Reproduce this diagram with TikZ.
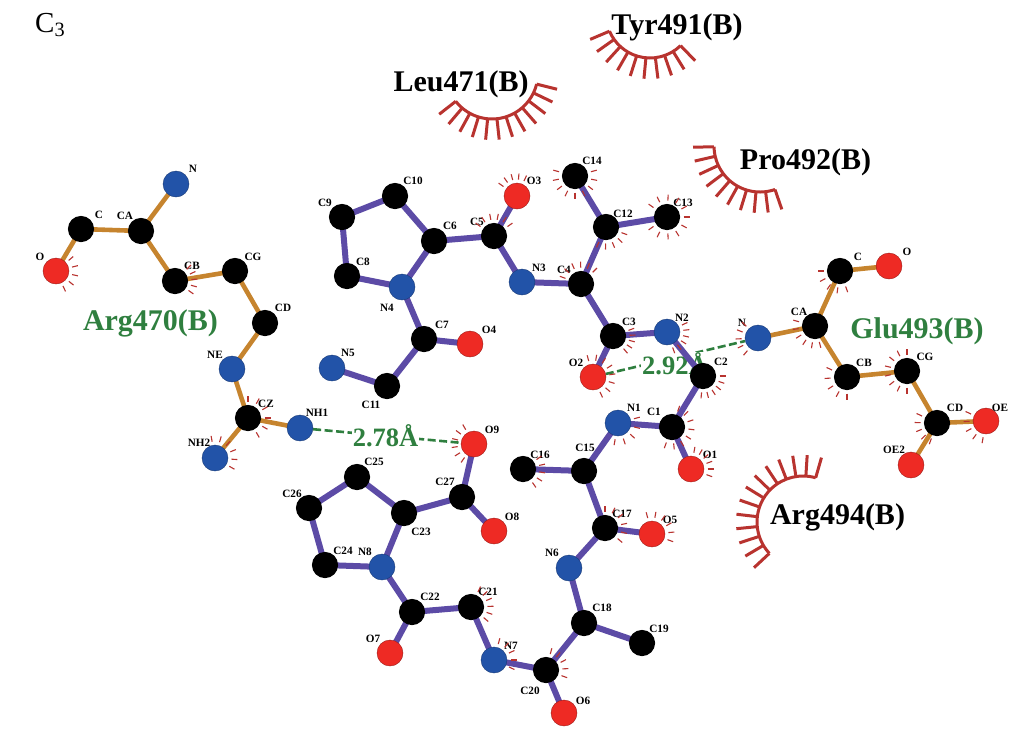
\documentclass[tikz,border=0pt]{standalone}
\usepackage{fontspec}
\setmainfont{Liberation Serif}
\usetikzlibrary{calc}
\pgfdeclarelayer{bg}
\pgfsetlayers{bg,main}
\definecolor{atomred}{HTML}{EE2A24}
\definecolor{atomblue}{HTML}{2253A8}
\definecolor{ligbond}{HTML}{5C4BA6}
\definecolor{resbond}{HTML}{C6842E}
\definecolor{hbgreen}{HTML}{2F7F3F}
\definecolor{lashred}{HTML}{B8332F}
\tikzset{
  atomC/.style={circle,fill=black,minimum size=26.2pt,inner sep=0pt},
  atomN/.style={circle,fill=atomblue,draw=atomblue!70!black,line width=.4pt,minimum size=26pt,inner sep=0pt},
  atomO/.style={circle,fill=atomred,draw=atomred!65!black,line width=.4pt,minimum size=26pt,inner sep=0pt},
  lab/.style={inner sep=0pt,font=\fontsize{11.2}{11}\selectfont\bfseries},
  resblack/.style={inner sep=0pt,font=\fontsize{30}{30}\selectfont\bfseries,text=black},
  resgreen/.style={inner sep=0pt,font=\fontsize{30}{30}\selectfont\bfseries,text=hbgreen},
  distlab/.style={inner sep=1pt,fill=white,font=\fontsize{26.5}{26}\selectfont\bfseries,text=hbgreen},
  ligb/.style={draw=ligbond,line width=6pt},
  resb/.style={draw=resbond,line width=4.6pt},
  hbond/.style={draw=hbgreen,line width=2.6pt,dash pattern=on 8pt off 3.5pt},
  hashmark/.style={draw=lashred,line width=1.1pt},
  lashline/.style={draw=lashred,line width=3pt}
}
\newcommand{\atm}[7]{% name, type, x, y, label, lx, ly
  \node[atom#2] (#1) at (#3,#4) {};
  \node[lab] (#1lab) at (#6,#7) {#5};
}
\newcommand{\hashm}[4]{% atom, from, to, n
  \foreach \hi in {1,...,#4} {
    \pgfmathsetmacro\ha{#2+(\hi-1)*(#3-(#2))/(#4-1)}
    \draw[hashmark] ($(#1.center)+(\ha:16.5pt)$) -- ($(#1.center)+(\ha:22.5pt)$);
  }
}
\newcommand{\lash}[6]{% cx, cy, r, a1, a2, n
  \draw[lashline] ($(#1,#2)+(#4:#3pt)$) arc[start angle=#4,end angle=#5,radius=#3pt];
  \foreach \hi in {1,...,#6} {
    \pgfmathsetmacro\ha{#4+(\hi-1)*(#5-(#4))/(#6-1)}
    \draw[lashline] ($(#1,#2)+(\ha:#3pt)$) -- ($(#1,#2)+(\ha:#3pt+21pt)$);
  }
}
\begin{document}
\begin{tikzpicture}[x=1pt,y=1pt,yscale=-1]
\useasboundingbox (0,0) rectangle (1029,740);
% Arg470
\atm{aN}{N}{176}{184}{N}{193}{169}
\atm{aCA}{C}{141}{231}{CA}{125}{216}
\atm{aC}{C}{81}{229}{C}{99}{215}
\atm{aO}{O}{56}{271}{O}{40}{257}
\atm{aCB}{C}{175}{281}{CB}{192}{266}
\atm{aCG}{C}{235}{271}{CG}{253}{257}
\atm{aCD}{C}{265}{323}{CD}{283}{308}
\atm{aNE}{N}{232}{369}{NE}{215}{355}
\atm{aCZ}{C}{248}{418}{CZ}{266}{404}
\atm{aNHa}{N}{300}{428}{NH1}{317}{413}
\atm{aNHb}{N}{215}{458}{NH2}{199}{443}
% ligand
\atm{Ca}{C}{672}{427}{C1}{654}{412}
\atm{Cb}{C}{703}{376}{C2}{721}{362}
\atm{Cc}{C}{613}{336}{C3}{629}{322}
\atm{Cd}{C}{581}{284}{C4}{564}{270}
\atm{Ce}{C}{494}{236}{C5}{477}{222}
\atm{Cf}{C}{434}{241}{C6}{450}{226}
\atm{Cg}{C}{424}{339}{C7}{442}{325}
\atm{Ch}{C}{347}{276}{C8}{363}{262}
\atm{Ci}{C}{342}{217}{C9}{325}{203}
\atm{Cj}{C}{395}{196}{C10}{413}{181}
\atm{Ck}{C}{387}{386}{C11}{371}{405}
\atm{Cl}{C}{606}{227}{C12}{623}{214}
\atm{Cm}{C}{667}{217}{C13}{683}{203}
\atm{Cn}{C}{575}{176}{C14}{592}{161}
\atm{Co}{C}{584}{471}{C15}{585}{448}
\atm{Cp}{C}{523}{469}{C16}{540}{455}
\atm{Cq}{C}{605}{528}{C17}{622}{514}
\atm{Cr}{C}{584}{623}{C18}{602}{608}
\atm{Cs}{C}{642}{643}{C19}{659}{629}
\atm{Ct}{C}{546}{670}{C20}{530}{691}
\atm{Cu}{C}{471}{607}{C21}{488}{592}
\atm{Cv}{C}{412}{612}{C22}{430}{597}
\atm{Cw}{C}{404}{513}{C23}{421}{532}
\atm{Cx}{C}{325}{565}{C24}{343}{551}
\atm{Cy}{C}{357}{477}{C25}{374}{462}
\atm{Cz}{C}{309}{508}{C26}{292}{494}
\atm{Caa}{C}{462}{497}{C27}{445}{482}
\atm{Na}{N}{618}{423}{N1}{634}{408}
\atm{Nb}{N}{667}{332}{N2}{682}{318}
\atm{Nc}{N}{522}{282}{N3}{539}{268}
\atm{Nd}{N}{402}{287}{N4}{387}{308}
\atm{Ne}{N}{332}{368}{N5}{348}{353}
\atm{Nf}{N}{569}{568}{N6}{552}{553}
\atm{Ng}{N}{494}{660}{N7}{511}{646}
\atm{Nh}{N}{382}{567}{N8}{365}{552}
\atm{Oa}{O}{691}{469}{O1}{710}{455}
\atm{Ob}{O}{593}{377}{O2}{576}{363}
\atm{Oc}{O}{517}{196}{O3}{534}{181}
\atm{Od}{O}{470}{344}{O4}{489}{330}
\atm{Oe}{O}{652}{534}{O5}{670}{520}
\atm{Of}{O}{564}{713}{O6}{583}{701}
\atm{Og}{O}{390}{653}{O7}{373}{639}
\atm{Oh}{O}{494}{531}{O8}{512}{517}
\atm{Oi}{O}{474}{444}{O9}{492}{430}
% Glu493
\atm{gN}{N}{758}{338}{N}{742}{323}
\atm{gCA}{C}{815}{326}{CA}{799}{312}
\atm{gC}{C}{840}{271}{C}{858}{257}
\atm{gO}{O}{889}{266}{O}{907}{252}
\atm{gCB}{C}{847}{377}{CB}{864}{363}
\atm{gCG}{C}{907}{371}{CG}{925}{357}
\atm{gCD}{C}{937}{423}{CD}{955}{408}
\atm{gOEa}{O}{986}{421}{OE}{1000}{408}
\atm{gOEb}{O}{911}{465}{OE2}{894}{450}
% residue names
\node[resgreen] (rArgA) at (150.5,323) {Arg470(B)};
\node[resgreen] (rGlu) at (917,331) {Glu493(B)};
\node[resblack] (rLeu) at (461,84) {Leu471(B)};
\node[resblack] (rTyr) at (677,27) {Tyr491(B)};
\node[resblack] (rPro) at (805.5,162) {Pro492(B)};
\node[resblack] (rArgB) at (837.5,517) {Arg494(B)};
\node[inner sep=0pt,anchor=west,font=\fontsize{29}{29}\selectfont] (panel) at (35,25) {C\textsubscript{3}};
\begin{pgfonlayer}{bg}
  \draw[hbond] (aNHa) -- node[distlab,pos=.49] (dA) {2.78Å} (Oi);
  \draw[hbond] (Ob) -- (gN);
  \node[distlab] (dB) at (675,364) {2.92Å};
  \path[resb] (aN.center) -- (aCA.center) -- (aC.center) -- (aO.center);
  \path[resb] (aCA.center) -- (aCB.center) -- (aCG.center) -- (aCD.center) -- (aNE.center) -- (aCZ.center) -- (aNHa.center);
  \path[resb] (aCZ.center) -- (aNHb.center);
  \path[resb] (gN.center) -- (gCA.center) -- (gC.center) -- (gO.center);
  \path[resb] (gCA.center) -- (gCB.center) -- (gCG.center) -- (gCD.center) -- (gOEa.center);
  \path[resb] (gCD.center) -- (gOEb.center);
  \path[ligb] (Ci.center) -- (Cj.center) -- (Cf.center) -- (Nd.center) -- (Ch.center) -- (Ci.center);
  \path[ligb] (Cf.center) -- (Ce.center) -- (Oc.center);
  \path[ligb] (Ce.center) -- (Nc.center) -- (Cd.center) -- (Cl.center) -- (Cn.center);
  \path[ligb] (Cl.center) -- (Cm.center);
  \path[ligb] (Cd.center) -- (Cc.center) -- (Nb.center) -- (Cb.center) -- (Ca.center) -- (Oa.center);
  \path[ligb] (Cc.center) -- (Ob.center);
  \path[ligb] (Nd.center) -- (Cg.center) -- (Od.center);
  \path[ligb] (Cg.center) -- (Ck.center) -- (Ne.center);
  \path[ligb] (Ca.center) -- (Na.center) -- (Co.center) -- (Cp.center);
  \path[ligb] (Co.center) -- (Cq.center) -- (Oe.center);
  \path[ligb] (Cq.center) -- (Nf.center) -- (Cr.center) -- (Cs.center);
  \path[ligb] (Cr.center) -- (Ct.center) -- (Of.center);
  \path[ligb] (Ct.center) -- (Ng.center) -- (Cu.center) -- (Cv.center) -- (Og.center);
  \path[ligb] (Cv.center) -- (Nh.center) -- (Cx.center) -- (Cz.center) -- (Cy.center) -- (Cw.center) -- (Nh.center);
  \path[ligb] (Cw.center) -- (Caa.center) -- (Oi.center);
  \path[ligb] (Caa.center) -- (Oh.center);
\end{pgfonlayer}
% hydrophobic contact marks
\hashm{aO}{-40}{65}{5}
\hashm{aCB}{-45}{35}{5}
\hashm{aCZ}{-90}{60}{6}
\hashm{aNHb}{-100}{30}{6}
\hashm{Oc}{215}{295}{5}
\hashm{Ce}{215}{325}{6}
\hashm{Cn}{-15}{195}{9}
\hashm{Cm}{-145}{145}{11}
\hashm{Cl}{20}{115}{5}
\hashm{Cd}{200}{315}{6}
\hashm{Cc}{-20}{50}{5}
\hashm{Nb}{-25}{70}{6}
\hashm{Ob}{-105}{65}{8}
\hashm{Cb}{0}{95}{6}
\hashm{Ca}{-70}{110}{8}
\hashm{Oa}{-80}{20}{6}
\hashm{Na}{-15}{100}{5}
\hashm{Cp}{-35}{55}{5}
\hashm{Cq}{-90}{40}{6}
\hashm{Oe}{-105}{20}{6}
\hashm{Oi}{125}{240}{6}
\hashm{Cu}{-65}{40}{6}
\hashm{Ng}{-75}{25}{5}
\hashm{Ct}{-75}{20}{5}
\hashm{gN}{130}{225}{5}
\hashm{gCA}{75}{195}{6}
\hashm{gC}{70}{180}{5}
\hashm{gCB}{90}{205}{5}
\hashm{gCG}{90}{270}{8}
\hashm{gCD}{110}{205}{5}
\hashm{gOEa}{100}{205}{5}
% residue contact arcs
\lash{492}{73}{46}{14}{142}{12}
\lash{650}{14}{44}{46}{157}{10}
\lash{760}{146}{46}{71}{179}{10}
\lash{803}{522}{46}{137}{286}{13}
\end{tikzpicture}
\end{document}
